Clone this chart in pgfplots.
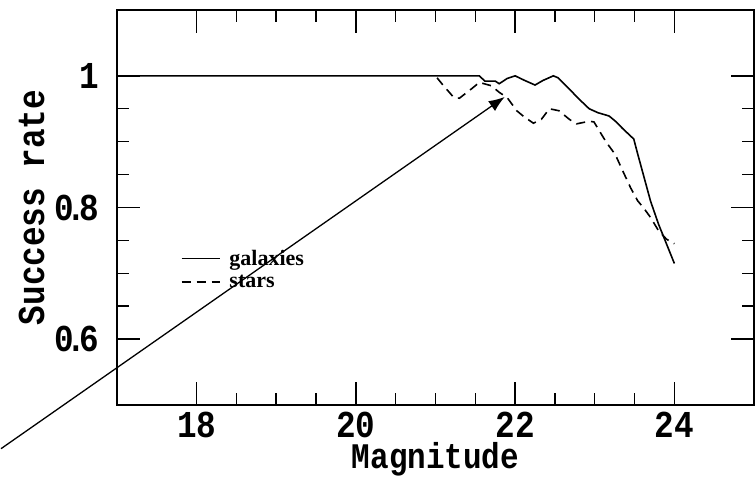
\documentclass[border=0pt]{standalone}
\usepackage{pgfplots}
\pgfplotsset{compat=1.18}
\usepackage{fontspec}
\setmainfont{Liberation Serif}
\newfontfamily\pf{Liberation Mono}[FakeStretch=0.86]
\usetikzlibrary{arrows.meta}
\begin{document}
\begin{tikzpicture}
\path[use as bounding box] (0bp,0bp) rectangle (755bp,477bp);
\begin{axis}[
  at={(117bp,72bp)}, anchor=south west,
  scale only axis, width=637bp, height=395bp,
  xmin=17, xmax=25, ymin=0.5, ymax=1.1,
  xtick={18,20,22,24}, ytick={0.6,0.8,1},
  yticklabels={{0\kern-8bp.\kern-7bp6},{0\kern-8bp.\kern-7bp8},1},
  minor x tick num=3, minor y tick num=3,
  tick align=inside,
  major tick length=23bp, minor tick length=12bp,
  every tick/.style={black, line width=1.5bp},
  axis line style={line width=1.8bp},
  clip=false,
  /pgf/number format/assume math mode=true,
  ticklabel style={font=\pf\bfseries\fontsize{38bp}{40bp}\selectfont},
  xticklabel style={anchor=base, inner sep=0pt, yshift=-32bp},
  yticklabel style={anchor=east, inner sep=0pt, xshift=-18bp},
  xlabel={Magnitude}, ylabel={Success rate},
  label style={font=\pf\bfseries\fontsize{38bp}{40bp}\selectfont},
  xlabel style={font=\pf\bfseries\fontsize{36bp}{38bp}\selectfont,
    at={(axis description cs:0.5,-0.162)}, anchor=base, inner sep=0pt},
  ylabel style={at={(axis description cs:-0.134,0.5)}, anchor=center, inner sep=0pt},
  legend style={at={(axis cs:17.8,0.706)}, anchor=west, draw=none, fill=none,
    font=\bfseries\fontsize{22bp}{22bp}\selectfont, inner sep=0pt, row sep=6bp,
    nodes={inner xsep=9bp, inner ysep=1bp}},
  legend cell align=left,
  legend image code/.code={\draw[#1] (0bp,0bp) -- (38bp,0bp);},
]
\addplot[black, line width=1.6bp] coordinates {
(17,1.0) (21.55,1.0) (21.62,0.992) (21.75,0.992) (21.8,0.988) (21.9,0.996)
(22.0,1.0) (22.12,0.993) (22.25,0.986) (22.35,0.993) (22.48,1.0) (22.54,0.997)
(22.68,0.98) (22.8,0.965) (22.93,0.95) (23.04,0.944) (23.18,0.939) (23.26,0.931)
(23.35,0.92) (23.49,0.904) (23.54,0.881) (23.61,0.85) (23.7,0.81) (23.8,0.775)
(23.9,0.745) (24.0,0.715)
};
\addlegendentry{galaxies}
\addplot[black, line width=1.6bp, dash pattern=on 9bp off 6bp] coordinates {
(21.02,0.997) (21.08,0.988) (21.23,0.967) (21.3,0.966) (21.46,0.981) (21.55,0.99)
(21.7,0.985) (21.8,0.975) (21.9,0.967) (22.02,0.947) (22.1,0.939) (22.23,0.928)
(22.33,0.934) (22.43,0.95) (22.55,0.947) (22.68,0.934) (22.77,0.927) (22.93,0.931)
(22.99,0.93) (23.04,0.92) (23.14,0.9) (23.26,0.88) (23.35,0.856) (23.45,0.83)
(23.54,0.81) (23.61,0.8) (23.7,0.785) (23.8,0.765) (23.9,0.752) (24.0,0.745)
};
\addlegendentry{stars}
\draw[line width=1.3bp, -{Latex[length=16bp,width=12bp]}] (axis cs:15.543,0.4336) -- (axis cs:21.87,0.968);
\end{axis}
\end{tikzpicture}
\end{document}
